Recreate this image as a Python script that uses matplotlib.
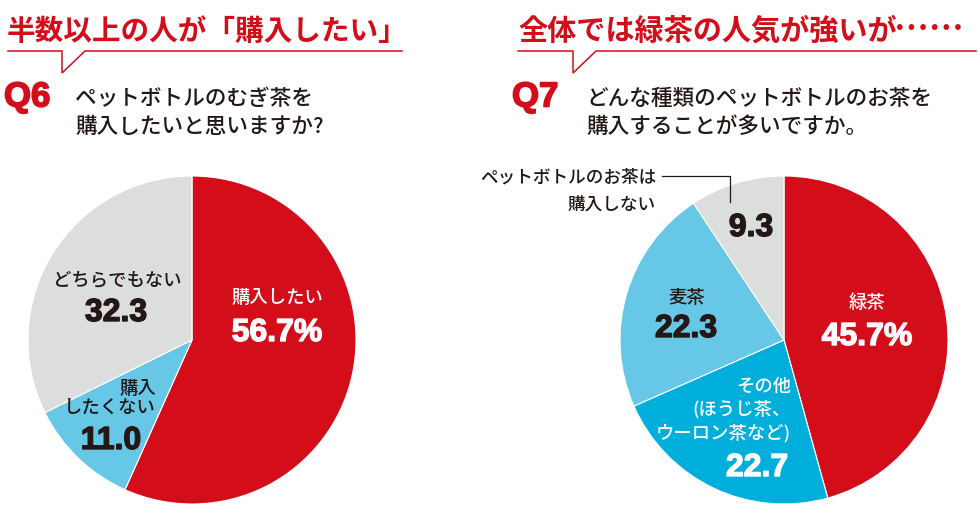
import matplotlib
matplotlib.use("Agg")
import matplotlib.pyplot as plt
import matplotlib.patheffects as pe

plt.rcParams['font.family'] = ['Noto Sans CJK JP', 'DejaVu Sans']

# ---- data ----
q6_labels = ["購入したい", "購入\nしたくない", "どちらでもない"]
q6_values = [56.7, 11.0, 32.3]
q7_labels = ["緑茶", "その他\n(ほうじ茶、\nウーロン茶など)", "麦茶", "ペットボトルのお茶は\n購入しない"]
q7_values = [45.7, 22.7, 22.3, 9.3]

RED = "#D30D1A"
LBLUE = "#67C7E7"
BLUE = "#00AEDB"
GRAY = "#DCDDDD"
DARK = "#231815"

q6_colors = [RED, LBLUE, GRAY]
q7_colors = [RED, BLUE, LBLUE, GRAY]

W, H = 980, 520
fig = plt.figure(figsize=(W / 100, H / 100), dpi=100)
ax = fig.add_axes([0, 0, 1, 1])

def Y(y):
    return H - y

wp = dict(edgecolor="white", linewidth=0.8)
ax.pie(q6_values, colors=q6_colors, startangle=90, counterclock=False,
       center=(192, Y(340)), radius=164, wedgeprops=wp)
ax.pie(q7_values, colors=q7_colors, startangle=90, counterclock=False,
       center=(784, Y(340)), radius=164, wedgeprops=wp)

ax.set_xlim(0, W)
ax.set_ylim(0, H)
ax.set_aspect("equal")
ax.axis("off")

def num(x, y, s, color):
    ax.text(x, Y(y), s, color=color, ha="center", va="center",
            family=["Liberation Sans", "DejaVu Sans"], fontweight="bold", fontsize=23,
            path_effects=[pe.withStroke(linewidth=1.0, foreground=color)])

JPF = dict(fontsize=13.2, fontweight="medium")

# ---- headers ----
def header(x0, x1, notch_x, text, tx, fs):
    ax.plot([x0, notch_x, notch_x, notch_x + 23, x1],
            [Y(51), Y(51), Y(73), Y(51), Y(51)], color=RED, lw=1.1,
            solid_joinstyle="miter")
    return ax.text(tx, Y(31), text, color=RED, fontsize=fs, fontweight="bold",
                   ha="left", va="center")

header(8, 402, 62, "半数以上の人が「購入したい」", 7, 20.6)
header(518, 976, 573, "全体では緑茶の人気が強いが", 518, 21)
# trailing dots
ax.text(894, Y(29), "……", color=RED, fontsize=25, fontweight="bold",
        ha="left", va="center")

qfx = dict(color=RED, fontsize=25, fontweight="bold",
           family=["Liberation Sans", "DejaVu Sans"], ha="left", va="center",
           path_effects=[pe.withStroke(linewidth=1.2, foreground=RED)])
ax.text(4, Y(97), "Q6", **qfx)
ax.text(512, Y(97), "Q7", **qfx)
ax.text(75, Y(113), "ペットボトルのむぎ茶を\n購入したいと思いますか?", color=DARK,
        fontsize=15.6, fontweight="medium", ha="left", va="center", linespacing=1.3)
ax.text(586, Y(113), "どんな種類のペットボトルのお茶を\n購入することが多いですか。", color=DARK,
        fontsize=15.6, fontweight="medium", ha="left", va="center", linespacing=1.3)

# ---- Q6 labels ----
ax.text(277, Y(298), q6_labels[0], color="white", ha="center", va="center", **JPF)
num(277, 333, f"{q6_values[0]:.1f}%", "white")
ax.text(156, Y(398), q6_labels[1], color=DARK, ha="right", va="center",
        linespacing=1.05, ma="right", **JPF)
num(111, 441, f"{q6_values[1]:.1f}", DARK)
ax.text(117, Y(280), q6_labels[2], color=DARK, ha="center", va="center", **JPF)
num(116, 313, f"{q6_values[2]:.1f}", DARK)

# ---- Q7 labels ----
ax.text(867, Y(303), q7_labels[0], color="white", ha="center", va="center", **JPF)
num(867, 337, f"{q7_values[0]:.1f}%", "white")
ax.text(791, Y(410), q7_labels[1], color="white", ha="right", va="center",
        linespacing=1.3, ma="right", **JPF)
num(757, 468, f"{q7_values[1]:.1f}", "white")
ax.text(686, Y(298), q7_labels[2], color=DARK, ha="center", va="center", **JPF)
num(686, 329, f"{q7_values[2]:.1f}", DARK)
ax.text(656, Y(191), q7_labels[3], color=DARK, ha="right", va="center",
        linespacing=1.6, ma="right", fontsize=12.7, fontweight="medium")
num(751, 228, f"{q7_values[3]:.1f}", DARK)
ax.plot([662, 730, 730], [Y(176), Y(176), Y(202)], color=DARK, lw=0.9)

fig.savefig("out.png", dpi=100)
